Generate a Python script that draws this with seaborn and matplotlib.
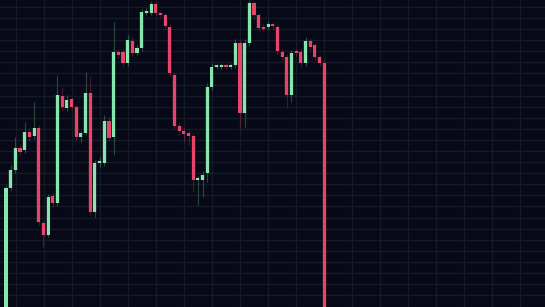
import numpy as np
import pandas as pd
import matplotlib
matplotlib.use("Agg")
import matplotlib.pyplot as plt
import seaborn as sns

# ---- data (price units, arbitrary) ----
opens = [-3, 119, 137, 159, 157, 175, 171, 179, 84, 72, 111, 104, 211, 199, 208, 200, 170, 174, 214, 95,
         144, 144, 186, 170, 255, 255, 244, 266, 254, 259, 294, 294, 303, 294, 292, 280, 232, 181, 176, 174,
         171, 127, 127, 134, 220, 240, 240, 241, 240, 242, 264, 194, 264, 304, 292, 280, 280, 282, 280, 255,
         250, 212, 255, 255, 244, 266, 262, 250, 244]
closes = [119, 137, 159, 155, 175, 170, 179, 85, 72, 110, 104, 212, 200, 207, 200, 170, 174, 214, 95, 144,
          146, 186, 169, 255, 252, 244, 267, 254, 259, 295, 296, 303, 294, 292, 281, 234, 181, 176, 173, 171,
          127, 128, 132, 220, 240, 241, 240.5, 240, 241, 264, 194, 264, 304, 292, 279, 278, 283, 281, 256, 250,
          212, 254, 254, 244, 266, 260, 250, 244, -3]
highs = [122, 142, 170, 163, 185, 178, 205, 182, 86, 113, 114, 232, 220, 212, 210, 202, 176, 235, 230, 147,
         150, 192, 190, 285, 258, 258, 272, 270, 262, 298, 299, 306, 305, 296, 294, 283, 235, 184, 179, 177,
         174, 131, 136, 224, 244, 243, 243, 243, 244, 268, 267, 268, 307, 306, 294, 283, 286, 285, 283, 258,
         253, 257, 258, 258, 270, 269, 264, 252, 247]
lows = [-3, 116, 134, 152, 154, 166, 168, 82, 60, 70, 100, 101, 197, 196, 198, 167, 165, 172, 92, 90,
        140, 141, 166, 152, 249, 240, 241, 251, 252, 256, 292, 292, 292, 290, 279, 231, 178, 172, 165, 162,
        115, 102, 110, 125, 217, 238, 238, 238, 238, 239, 178, 180, 261, 289, 276, 276, 277, 278, 253, 247,
        200, 205, 251, 240, 241, 257, 247, 241, -3]

df = pd.DataFrame({"open": opens, "close": closes, "high": highs, "low": lows})
df["idx"] = np.arange(len(df))
df["up"] = df["close"] >= df["open"]

# ---- style ----
BG = "#070a16"
GRID = "#151a28"
GREEN = "#86e6ad"
RED = "#e8436b"

sns.set_theme(style="dark", rc={
    "axes.facecolor": BG,
    "figure.facecolor": BG,
    "grid.color": GRID,
    "axes.edgecolor": BG,
})

fig = plt.figure(figsize=(5.45, 3.07), dpi=100)
ax = fig.add_axes([0, 0, 1, 1])
ax.set_facecolor(BG)

# grid
ax.set_xticks(np.arange(2.14, 120, 5.98))
ax.set_yticks(307 - np.arange(7, 300, 11.08))
ax.grid(True, color=GRID, linewidth=1.0, alpha=1.0)
ax.set_axisbelow(True)
ax.tick_params(left=False, bottom=False, labelleft=False, labelbottom=False)
for s in ax.spines.values():
    s.set_visible(False)

colors = np.where(df["up"], GREEN, RED)

# wicks
ax.vlines(df["idx"], df["low"], df["high"], colors=colors, linewidth=0.8, alpha=0.28, zorder=2)

# bodies
bottom = np.minimum(df["open"], df["close"])
height = np.maximum(np.abs(df["close"] - df["open"]), 1.6)
# glow
ax.bar(df["idx"], height, bottom=bottom, width=1.0, color=colors, alpha=0.15, linewidth=0, zorder=3)
ax.bar(df["idx"], height, bottom=bottom, width=0.66, color=colors, linewidth=0, zorder=4)

ax.set_xlim(-1.282, 115.17)
ax.set_ylim(0, 307)

fig.savefig("out.png", dpi=100, facecolor=BG)
